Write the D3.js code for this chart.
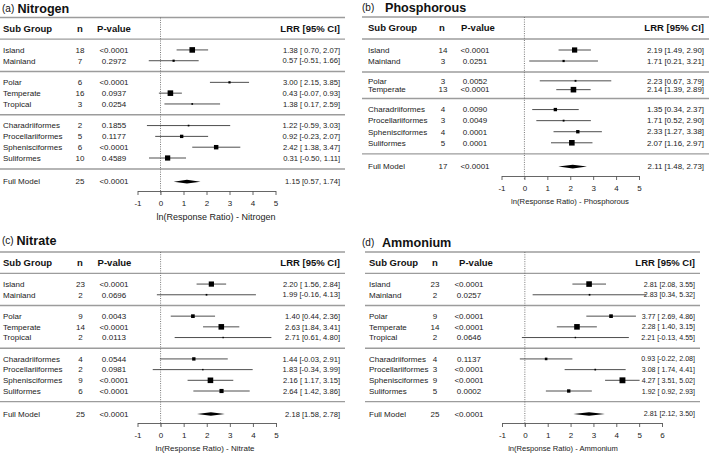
<!DOCTYPE html>
<html><head><meta charset="utf-8">
<script src="https://cdn.jsdelivr.net/npm/d3@7"></script>
<style>
body{margin:0;background:#fff}
svg{display:block}
text{font-family:"Liberation Sans",Arial,Helvetica,sans-serif;white-space:pre}
</style>
</head><body><svg id="chart" width="709" height="456"></svg>
<script>
// ---------------- DATA ----------------
const panelLetters = ["(a)", "(b)", "(c)", "(d)"];
const panelTitles = ["Nitrogen", "Phosphorous", "Nitrate", "Ammonium"];
const axisTitles = ["ln(Response Ratio) - Nitrogen", "ln(Response Ratio) - Phosphorous",
                    "ln(Response Ratio) - Nitrate", "ln(Response Ratio) - Ammonium"];
const ticksToFive = [-1, 0, 1, 2, 3, 4, 5];
const ticksToSix = [-1, 0, 1, 2, 3, 4, 5, 6];
const headers = ["Sub Group", "n", "P-value", "LRR [95% CI]"];

const groups9 = ["Island", "Mainland", "Polar", "Temperate", "Tropical",
                 "Charadriiformes", "Procellariiformes", "Sphenisciformes", "Suliformes"];
const groups8 = ["Island", "Mainland", "Polar", "Temperate",
                 "Charadriiformes", "Procellariiformes", "Sphenisciformes", "Suliformes"];
const blocks9 = [0, 0, 1, 1, 1, 2, 2, 2, 2];
const blocks8 = [0, 0, 1, 1, 2, 2, 2, 2];

// (a) Nitrogen
const nitrogenN = [18, 7, 6, 16, 3, 2, 5, 6, 10];
const nitrogenP = ["<0.0001", "0.2972", "<0.0001", "0.0937", "0.0254", "0.1855", "0.1177", "<0.0001", "0.4589"];
const nitrogenEst = [1.38, 0.57, 3.00, 0.43, 1.38, 1.22, 0.92, 2.42, 0.31];
const nitrogenLo = [0.70, -0.51, 2.15, -0.07, 0.17, -0.59, -0.23, 1.38, -0.50];
const nitrogenHi = [2.07, 1.66, 3.85, 0.93, 2.59, 3.03, 2.07, 3.47, 1.11];
const nitrogenWeight = [93, 37, 37, 93, 28, 28, 56, 74, 87];

// (b) Phosphorous
const phosphorousN = [14, 3, 3, 13, 4, 3, 4, 5];
const phosphorousP = ["<0.0001", "0.0251", "0.0052", "<0.0001", "0.0090", "0.0049", "0.0001", "0.0001"];
const phosphorousEst = [2.19, 1.71, 2.23, 2.14, 1.35, 1.71, 2.33, 2.07];
const phosphorousLo = [1.49, 0.21, 0.67, 1.39, 0.34, 0.52, 1.27, 1.16];
const phosphorousHi = [2.90, 3.21, 3.79, 2.89, 2.37, 2.90, 3.38, 2.97];
const phosphorousWeight = [87, 37, 31, 93, 56, 31, 56, 93];

// (c) Nitrate
const nitrateN = [23, 2, 9, 14, 2, 4, 2, 9, 6];
const nitrateP = ["<0.0001", "0.0696", "0.0043", "<0.0001", "0.0113", "0.0544", "0.0981", "<0.0001", "<0.0001"];
const nitrateEst = [2.20, 1.99, 1.40, 2.63, 2.71, 1.44, 1.83, 2.16, 2.64];
const nitrateLo = [1.56, -0.16, 0.44, 1.84, 0.61, -0.03, -0.34, 1.17, 1.42];
const nitrateHi = [2.84, 4.13, 2.36, 3.41, 4.80, 2.91, 3.99, 3.15, 3.86];
const nitrateWeight = [87, 28, 61, 93, 24, 56, 24, 93, 69];

// (d) Ammonium
const ammoniumN = [23, 2, 9, 14, 2, 4, 3, 9, 5];
const ammoniumP = ["<0.0001", "0.0257", "<0.0001", "<0.0001", "0.0646", "0.1137", "<0.0001", "<0.0001", "0.0002"];
const ammoniumEst = [2.81, 2.83, 3.77, 2.28, 2.21, 0.93, 3.08, 4.27, 1.92];
const ammoniumLo = [2.08, 0.34, 2.69, 1.40, -0.13, -0.22, 1.74, 3.51, 0.92];
const ammoniumHi = [3.55, 5.32, 4.86, 3.15, 4.55, 2.08, 4.41, 5.02, 2.93];
const ammoniumWeight = [93, 28, 61, 93, 24, 43, 28, 98, 56];

// Full models
const fullLabel = "Full Model";
const fullN = [25, 17, 25, 25];
const fullP = ["<0.0001", "<0.0001", "<0.0001", "<0.0001"];
const fullEst = [1.15, 2.11, 2.18, 2.81];
const fullLo = [0.57, 1.48, 1.58, 2.12];
const fullHi = [1.74, 2.73, 2.78, 3.50];

// ---------------- LAYOUT ----------------
const slots9 = {rows: [0, 1, 3, 4, 5, 7, 8, 9, 10], rules: [2, 6, 11], full: 12.15, axis: 13};
const slots8 = {rows: [0, 1, 3, 4, 6, 7, 8, 9], rules: [2, 5, 10], full: 11.15, axis: 12};

const layouts = [
  {ruleX: [0, 345], labelX: 3, nX: 80, nHX: 80, pX: 114, pHX: 114, lrrX: 340, lrrSize: 7.6,
   xDom: [-1, 5], xRange: [137.5, 275.5], yDom: [-3, 10, 13], yRange: [17.5, 158, 191],
   letterX: 2, titleX: 17.5, titleY: 8, xlabX: 216, xlabSize: 9, slots: slots9, ticks: ticksToFive},
  {ruleX: [362, 709], labelX: 368, nX: 443, nHX: 442, pX: 475, pHX: 478, lrrX: 704, lrrSize: 7.9,
   xDom: [-1, 5], xRange: [501.5, 639], yDom: [-3, 2, 5, 12], yRange: [17, 72, 98.5, 176],
   letterX: 362, titleX: 385, titleY: 7, xlabX: 570, xlabSize: 7.7, slots: slots8, ticks: ticksToFive},
  {ruleX: [0, 345], labelX: 3, nX: 80.5, nHX: 80, pX: 114, pHX: 114.5, lrrX: 340, lrrSize: 7.6,
   xDom: [-1, 5], xRange: [137.5, 276], yDom: [-3, 10, 13], yRange: [252, 391, 423],
   letterX: 2, titleX: 16.5, titleY: 240, xlabX: 205, xlabSize: 8, slots: slots9, ticks: ticksToFive},
  {ruleX: [365, 700], labelX: 369, nX: 435, nHX: 435, pX: 469, pHX: 476, lrrX: 695, lrrSize: 7.1,
   xDom: [-1, 6], xRange: [502, 662], yDom: [-3, 10, 13], yRange: [252, 391, 423],
   letterX: 362, titleX: 382, titleY: 242, xlabX: 563, xlabSize: 7.6, slots: slots9, ticks: ticksToSix}
];

const panelData = [
  {groups: groups9, blocks: blocks9, n: nitrogenN, p: nitrogenP, est: nitrogenEst, lo: nitrogenLo, hi: nitrogenHi, w: nitrogenWeight},
  {groups: groups8, blocks: blocks8, n: phosphorousN, p: phosphorousP, est: phosphorousEst, lo: phosphorousLo, hi: phosphorousHi, w: phosphorousWeight},
  {groups: groups9, blocks: blocks9, n: nitrateN, p: nitrateP, est: nitrateEst, lo: nitrateLo, hi: nitrateHi, w: nitrateWeight},
  {groups: groups9, blocks: blocks9, n: ammoniumN, p: ammoniumP, est: ammoniumEst, lo: ammoniumLo, hi: ammoniumHi, w: ammoniumWeight}
];

const svg = d3.select("#chart");
const sizeScale = d3.scaleLinear().domain([0, 100]).range([0, 6]);
const textCol = "#222", ruleCol = "#9c9c9c", lineCol = "#3a3a3a";
const rowFont = 8;

panelData.forEach((pd, i) => {
  const L = layouts[i];
  const g = svg.append("g").attr("class", "panel");
  const x = d3.scaleLinear().domain(L.xDom).range(L.xRange);
  const y = d3.scaleLinear().domain(L.yDom).range(L.yRange);
  const S = L.slots;

  // title
  g.append("text").attr("x", L.letterX).attr("y", L.titleY).attr("dy", "0.35em").attr("fill", "#111")
    .attr("font-size", 10).text(panelLetters[i]);
  g.append("text").attr("x", L.titleX).attr("y", L.titleY).attr("dy", "0.38em").attr("fill", "#111")
    .attr("font-size", 12.6).attr("font-weight", "bold").text(panelTitles[i]);

  // rules
  const ruleSlots = [-3, -1].concat(S.rules);
  g.selectAll("line.rule").data(ruleSlots).join("line").attr("class", "rule")
    .attr("x1", L.ruleX[0]).attr("x2", L.ruleX[1])
    .attr("y1", d => y(d)).attr("y2", d => y(d))
    .attr("stroke", ruleCol).attr("stroke-width", 1.4);

  // zero dotted line
  g.append("line").attr("x1", x(0)).attr("x2", x(0)).attr("y1", y(-3)).attr("y2", y(S.axis) + 4)
    .attr("stroke", "#6a6a6a").attr("stroke-width", 0.9).attr("stroke-dasharray", "1,1.3");

  // headers
  const hy = y(-2);
  const hdr = [[headers[0], L.labelX, "start"], [headers[1], L.nHX, "middle"], [headers[2], L.pHX, "middle"], [headers[3], L.lrrX, "end"]];
  g.selectAll("text.hdr").data(hdr).join("text").attr("class", "hdr")
    .attr("x", d => d[1]).attr("y", hy).attr("dy", "0.35em").attr("text-anchor", d => d[2])
    .attr("font-size", 9.5).attr("font-weight", "bold").attr("fill", "#111").text(d => d[0]);

  // rows
  const rows = pd.groups.map((gname, k) => ({
    name: gname, n: pd.n[k], p: pd.p[k], est: pd.est[k], lo: pd.lo[k], hi: pd.hi[k], w: pd.w[k],
    block: pd.blocks[k], slot: S.rows[k]
  }));
  const padBlock = {};
  rows.forEach(r => { if (r.lo < 0) padBlock[r.block] = true; });
  const fmtCI = (est, lo, hi, pad) => est.toFixed(2) + " [" + (pad && lo >= 0 ? " " : "") + lo.toFixed(2) + ", " + hi.toFixed(2) + "]";

  const rg = g.selectAll("g.row").data(rows).join("g").attr("class", "row")
    .attr("transform", d => `translate(0,${y(d.slot)})`);
  rg.append("text").attr("x", L.labelX).attr("dy", "0.35em").attr("font-size", rowFont).attr("fill", textCol).text(d => d.name);
  rg.append("text").attr("x", L.nX).attr("dy", "0.35em").attr("text-anchor", "middle").attr("font-size", rowFont).attr("fill", textCol).text(d => d.n);
  rg.append("text").attr("x", L.pX).attr("dy", "0.35em").attr("text-anchor", "middle").attr("font-size", rowFont).attr("fill", textCol).text(d => d.p);
  rg.append("text").attr("x", L.lrrX).attr("dy", "0.35em").attr("text-anchor", "end").attr("font-size", L.lrrSize).attr("fill", textCol)
    .text(d => fmtCI(d.est, d.lo, d.hi, !!padBlock[d.block]));
  rg.append("line").attr("x1", d => x(d.lo)).attr("x2", d => x(d.hi)).attr("y1", 0).attr("y2", 0)
    .attr("stroke", lineCol).attr("stroke-width", 0.9);
  rg.append("rect").attr("x", d => x(d.est) - sizeScale(d.w) / 2).attr("y", d => -sizeScale(d.w) / 2)
    .attr("width", d => sizeScale(d.w)).attr("height", d => sizeScale(d.w)).attr("fill", "#000");

  // full model
  const fy = y(S.full);
  const fg = g.append("g").attr("transform", `translate(0,${fy})`);
  fg.append("text").attr("x", L.labelX).attr("dy", "0.35em").attr("font-size", rowFont).attr("fill", textCol).text(fullLabel);
  fg.append("text").attr("x", L.nX).attr("dy", "0.35em").attr("text-anchor", "middle").attr("font-size", rowFont).attr("fill", textCol).text(fullN[i]);
  fg.append("text").attr("x", L.pX).attr("dy", "0.35em").attr("text-anchor", "middle").attr("font-size", rowFont).attr("fill", textCol).text(fullP[i]);
  fg.append("text").attr("x", L.lrrX).attr("dy", "0.35em").attr("text-anchor", "end").attr("font-size", L.lrrSize).attr("fill", textCol)
    .text(fmtCI(fullEst[i], fullLo[i], fullHi[i], false));
  const h = 1.8;
  fg.append("polygon")
    .attr("points", [[x(fullLo[i]), 0], [x(fullEst[i]), -h], [x(fullHi[i]), 0], [x(fullEst[i]), h]].map(p => p.join(",")).join(" "))
    .attr("fill", "#000");

  // axis
  const ay = y(S.axis);
  const ax = g.append("g").attr("transform", `translate(0,${ay})`)
    .call(d3.axisBottom(x).tickValues(L.ticks).tickSize(4).tickSizeOuter(0).tickPadding(5).tickFormat(d3.format("d")));
  ax.select(".domain").attr("stroke", "#555").attr("stroke-width", 0.9);
  ax.selectAll(".tick line").attr("stroke", "#555").attr("stroke-width", 0.9);
  ax.selectAll(".tick text").attr("font-size", rowFont).attr("fill", textCol)
    .attr("font-family", "'Liberation Sans',Arial,sans-serif")
    .text(d => d < 0 ? "-" + Math.abs(d) : d);
  g.append("text").attr("x", L.xlabX).attr("y", ay + 25.5).attr("dy", "0.35em").attr("text-anchor", "middle")
    .attr("font-size", L.xlabSize).attr("fill", textCol).text(axisTitles[i]);
});
</script>
</body></html>
